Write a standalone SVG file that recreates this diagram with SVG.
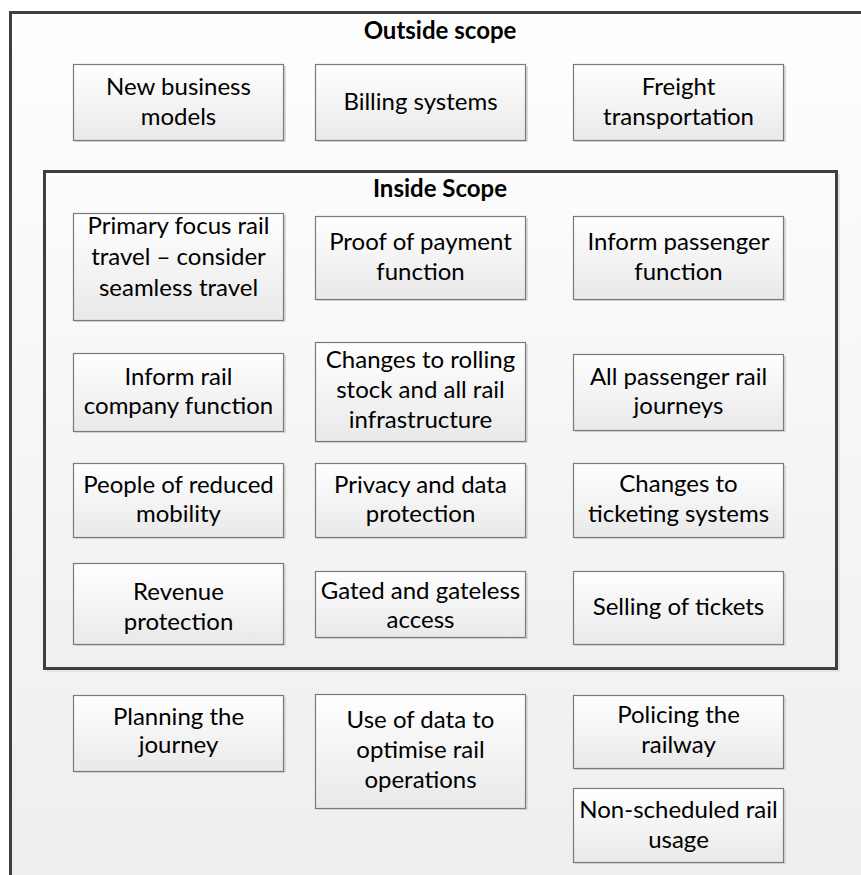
<svg xmlns="http://www.w3.org/2000/svg" width="861" height="875" viewBox="0 0 861 875">
  <defs>
    <linearGradient id="bgOuter" x1="0" y1="0" x2="0" y2="1">
      <stop offset="0" stop-color="#fefefe"/>
      <stop offset="1" stop-color="#eeeeee"/>
    </linearGradient>
    <linearGradient id="bgInner" x1="0" y1="0" x2="0" y2="1">
      <stop offset="0" stop-color="#fcfcfc"/>
      <stop offset="1" stop-color="#f0f0f0"/>
    </linearGradient>
    <linearGradient id="boxFill" x1="0" y1="0" x2="0" y2="1">
      <stop offset="0" stop-color="#ffffff"/>
      <stop offset="1" stop-color="#e9e9e9"/>
    </linearGradient>
  </defs>
  <style>
    .frame { stroke: #3f3f3f; stroke-width: 3; }
    .shadow { fill: #d9d9d9; }
    .box { fill: url(#boxFill); stroke: #7a7a7a; stroke-width: 1.2; }
    .lbl { font-family: Lato, "Open Sans", sans-serif; font-size: 24px; fill: #000; text-anchor: middle; }
    .title { font-family: Lato, "Open Sans", sans-serif; font-size: 24px; font-weight: bold; fill: #000; text-anchor: middle; }
  </style>
  <rect width="861" height="875" fill="#ffffff"/>

  <g id="outside-scope">
    <rect x="10.5" y="12.5" width="870" height="880" fill="url(#bgOuter)" class="frame"/>
    <text class="title" x="440" y="39">Outside scope</text>
  </g>

  <g id="inside-scope">
    <rect x="47" y="174" width="793" height="498" class="shadow" opacity="0.6"/>
    <rect x="44.5" y="171.5" width="792" height="497" fill="url(#bgInner)" class="frame"/>
    <text class="title" x="440" y="197">Inside Scope</text>
  </g>

  <g id="connectors"/>

  <g id="n-new-business">
    <rect x="75" y="66" width="211" height="76" class="shadow"/>
    <rect x="73.5" y="64.5" width="210" height="76" class="box"/>
    <text class="lbl" x="178.5" y="95">New business</text>
    <text class="lbl" x="178.5" y="125">models</text>
  </g>
  <g id="n-billing">
    <rect x="317" y="66" width="211" height="76" class="shadow"/>
    <rect x="315.5" y="64.5" width="210" height="76" class="box"/>
    <text class="lbl" x="420.5" y="110">Billing systems</text>
  </g>
  <g id="n-freight">
    <rect x="575" y="66" width="211" height="76" class="shadow"/>
    <rect x="573.5" y="64.5" width="210" height="76" class="box"/>
    <text class="lbl" x="678.5" y="95">Freight</text>
    <text class="lbl" x="678.5" y="125">transportation</text>
  </g>

  <g id="n-primary-focus">
    <rect x="75" y="215" width="211" height="107" class="shadow"/>
    <rect x="73.5" y="213.5" width="210" height="107" class="box"/>
    <text class="lbl" x="178.5" y="234">Primary focus rail</text>
    <text class="lbl" x="178.5" y="265">travel – consider</text>
    <text class="lbl" x="178.5" y="296">seamless travel</text>
  </g>
  <g id="n-proof-payment">
    <rect x="317" y="218" width="211" height="83" class="shadow"/>
    <rect x="315.5" y="216.5" width="210" height="83" class="box"/>
    <text class="lbl" x="420.5" y="250">Proof of payment</text>
    <text class="lbl" x="420.5" y="280">function</text>
  </g>
  <g id="n-inform-passenger">
    <rect x="575" y="218" width="211" height="83" class="shadow"/>
    <rect x="573.5" y="216.5" width="210" height="83" class="box"/>
    <text class="lbl" x="678.5" y="250">Inform passenger</text>
    <text class="lbl" x="678.5" y="280">function</text>
  </g>

  <g id="n-inform-rail-company">
    <rect x="75" y="355" width="211" height="78" class="shadow"/>
    <rect x="73.5" y="353.5" width="210" height="78" class="box"/>
    <text class="lbl" x="178.5" y="385">Inform rail</text>
    <text class="lbl" x="178.5" y="414">company function</text>
  </g>
  <g id="n-rolling-stock">
    <rect x="317" y="344" width="211" height="99" class="shadow"/>
    <rect x="315.5" y="342.5" width="210" height="99" class="box"/>
    <text class="lbl" x="420.5" y="368">Changes to rolling</text>
    <text class="lbl" x="420.5" y="398">stock and all rail</text>
    <text class="lbl" x="420.5" y="428">infrastructure</text>
  </g>
  <g id="n-all-passenger">
    <rect x="575" y="356" width="211" height="76" class="shadow"/>
    <rect x="573.5" y="354.5" width="210" height="76" class="box"/>
    <text class="lbl" x="678.5" y="385">All passenger rail</text>
    <text class="lbl" x="678.5" y="414">journeys</text>
  </g>

  <g id="n-reduced-mobility">
    <rect x="75" y="465" width="211" height="74" class="shadow"/>
    <rect x="73.5" y="463.5" width="210" height="74" class="box"/>
    <text class="lbl" x="178.5" y="493">People of reduced</text>
    <text class="lbl" x="178.5" y="522">mobility</text>
  </g>
  <g id="n-privacy">
    <rect x="317" y="465" width="211" height="74" class="shadow"/>
    <rect x="315.5" y="463.5" width="210" height="74" class="box"/>
    <text class="lbl" x="420.5" y="493">Privacy and data</text>
    <text class="lbl" x="420.5" y="522">protection</text>
  </g>
  <g id="n-ticketing-systems">
    <rect x="575" y="465" width="211" height="74" class="shadow"/>
    <rect x="573.5" y="463.5" width="210" height="74" class="box"/>
    <text class="lbl" x="678.5" y="492">Changes to</text>
    <text class="lbl" x="678.5" y="522">ticketing systems</text>
  </g>

  <g id="n-revenue">
    <rect x="75" y="565" width="211" height="81" class="shadow"/>
    <rect x="73.5" y="563.5" width="210" height="81" class="box"/>
    <text class="lbl" x="178.5" y="600">Revenue</text>
    <text class="lbl" x="178.5" y="630">protection</text>
  </g>
  <g id="n-gated">
    <rect x="317" y="573" width="211" height="66" class="shadow"/>
    <rect x="315.5" y="571.5" width="210" height="66" class="box"/>
    <text class="lbl" x="420.5" y="599">Gated and gateless</text>
    <text class="lbl" x="420.5" y="628">access</text>
  </g>
  <g id="n-selling">
    <rect x="575" y="573" width="211" height="73" class="shadow"/>
    <rect x="573.5" y="571.5" width="210" height="73" class="box"/>
    <text class="lbl" x="678.5" y="615">Selling of tickets</text>
  </g>

  <g id="n-planning">
    <rect x="75" y="697" width="211" height="76" class="shadow"/>
    <rect x="73.5" y="695.5" width="210" height="76" class="box"/>
    <text class="lbl" x="178.5" y="725">Planning the</text>
    <text class="lbl" x="178.5" y="753">journey</text>
  </g>
  <g id="n-use-of-data">
    <rect x="317" y="696" width="211" height="114" class="shadow"/>
    <rect x="315.5" y="694.5" width="210" height="114" class="box"/>
    <text class="lbl" x="420.5" y="728">Use of data to</text>
    <text class="lbl" x="420.5" y="758">optimise rail</text>
    <text class="lbl" x="420.5" y="788">operations</text>
  </g>
  <g id="n-policing">
    <rect x="575" y="697" width="211" height="73" class="shadow"/>
    <rect x="573.5" y="695.5" width="210" height="73" class="box"/>
    <text class="lbl" x="678.5" y="723">Policing the</text>
    <text class="lbl" x="678.5" y="753">railway</text>
  </g>
  <g id="n-non-scheduled">
    <rect x="575" y="790" width="211" height="74" class="shadow"/>
    <rect x="573.5" y="788.5" width="210" height="74" class="box"/>
    <text class="lbl" x="678.5" y="818">Non-scheduled rail</text>
    <text class="lbl" x="678.5" y="848">usage</text>
  </g>
</svg>
